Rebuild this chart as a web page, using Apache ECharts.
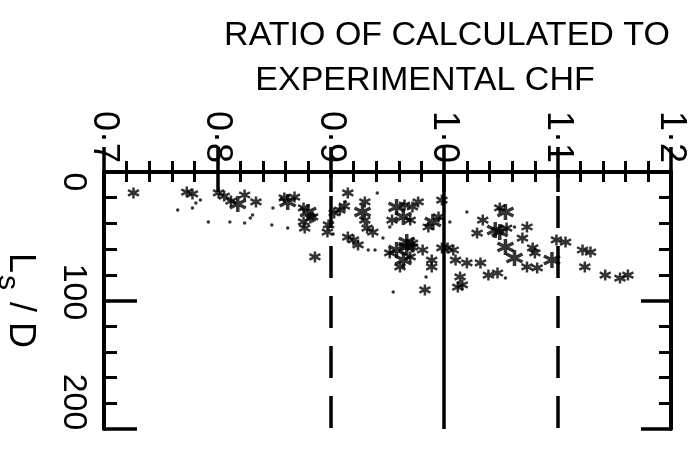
<!DOCTYPE html>
<html><head><meta charset="utf-8">
<script src="https://cdn.jsdelivr.net/npm/echarts@6/dist/echarts.min.js"></script>
<style>html,body{margin:0;padding:0;background:#fff}#c{width:693px;height:457px}</style>
</head><body><div id="c"></div>
<script>
const titleLines = ['RATIO OF CALCULATED TO', 'EXPERIMENTAL CHF'];
const xTickValues = [0.7, 0.8, 0.9, 1.0, 1.1, 1.2];
const xTickLabels = ['0·7', '0·8', '0·9', '1·0', '1·1', '1·2'];
const yTickValues = [0, 100, 200];
const yTickLabels = ['0', '100', '200'];
const yAxisTitle = ['L', 's', ' / D'];
const refLinesDashed = [0.9, 1.1];
const refLinesSolid = [1.0];

// [ratio, Ls/D]
const bigStars = [
  [0.818, 24.9], [0.862, 23.3], [0.880, 31.1], [0.928, 31.1], [0.958, 27.2],
  [0.964, 35.0], [0.958, 60.7], [0.967, 58.4], [0.964, 68.5], [0.967, 54.5],
  [0.990, 38.9], [1.054, 31.1], [1.045, 45.1], [1.049, 46.7], [1.054, 58.4],
  [1.062, 66.9], [1.095, 68.5]
];
const stars = [
  [0.726, 16.3], [0.773, 15.6], [0.778, 17.1], [0.801, 16.3], [0.806, 18.7],
  [0.812, 22.6], [0.824, 17.9], [0.834, 23.3], [0.859, 20.2], [0.868, 19.5],
  [0.876, 28.0], [0.882, 35.8], [0.876, 38.9], [0.884, 35.0], [0.877, 43.6],
  [0.886, 66.1], [0.898, 41.2], [0.897, 46.7], [0.903, 31.9], [0.908, 29.6],
  [0.912, 26.5], [0.915, 16.3], [0.915, 50.6], [0.920, 52.9], [0.924, 56.8],
  [0.930, 23.3], [0.930, 37.4], [0.932, 43.6], [0.937, 46.7], [0.954, 37.4],
  [0.970, 37.4], [0.972, 27.2], [0.952, 63.0], [0.961, 73.9], [0.970, 66.1],
  [0.972, 55.3], [0.965, 25.7], [0.977, 23.3], [0.972, 58.4], [0.981, 60.7],
  [0.989, 68.5], [0.989, 73.9], [0.995, 35.0], [0.986, 42.8], [0.998, 59.1],
  [1.003, 59.1], [1.008, 60.7], [0.998, 21.8], [1.034, 37.4], [1.029, 47.5],
  [1.049, 28.0], [1.055, 43.6], [1.073, 42.8], [1.069, 51.4], [1.078, 59.1],
  [1.080, 63.0], [1.010, 68.5], [1.020, 70.8], [1.032, 70.8], [1.039, 80.2],
  [1.047, 78.6], [1.014, 81.7], [1.016, 87.9], [0.983, 91.8], [1.073, 73.9],
  [1.082, 74.7], [1.099, 52.9], [1.107, 54.5], [1.122, 60.7], [1.129, 62.3],
  [1.124, 73.9], [1.142, 80.2], [1.155, 82.5], [1.162, 80.2], [1.012, 89.5]
];
const dots = [
  [0.785, 21.8], [0.781, 24.1], [0.765, 29.6], [0.778, 28.0], [0.792, 38.9],
  [0.811, 38.9], [0.824, 39.7], [0.831, 33.5], [0.829, 35.8], [0.849, 28.0],
  [0.848, 41.2], [0.862, 43.6], [0.913, 23.3], [0.902, 48.2], [0.933, 60.7],
  [0.939, 60.7], [0.941, 16.3], [0.946, 51.4], [0.952, 42.8], [0.955, 93.4],
  [1.005, 38.9], [1.020, 31.1], [1.062, 42.8], [1.054, 82.5], [0.984, 81.7]
];

const FONT = 'Liberation Sans';
const asterisk = 'path://M10,0L10,20M1.34,5L18.66,15M1.34,15L18.66,5';
const xLabel = v => {
  const i = xTickValues.findIndex(t => Math.abs(t - v) < 1e-6);
  return i >= 0 ? xTickLabels[i] : '';
};
const yLabel = v => {
  const i = yTickValues.findIndex(t => Math.abs(t - v) < 1e-6);
  return i >= 0 ? yTickLabels[i] : '';
};
const lineBlack = w => ({ color: '#000', width: w });

const baseX = {
  type: 'value', min: 0.7, max: 1.2, interval: 0.1,
  axisLine: { show: true, lineStyle: lineBlack(4) },
  splitLine: { show: false }, minorSplitLine: { show: false }
};
const baseY = {
  type: 'value', min: 0, max: 200, interval: 100, inverse: true,
  axisLine: { show: true, lineStyle: lineBlack(4) },
  splitLine: { show: false }, minorSplitLine: { show: false }
};

const chart = echarts.init(document.getElementById('c'), null, { renderer: 'canvas' });
chart.setOption({
  animation: false,
  backgroundColor: '#fff',
  title: [
    { text: titleLines[0], left: 442, top: 14, textAlign: 'center',
      textStyle: { fontFamily: FONT, fontSize: 34, fontWeight: 'normal', color: '#000' } },
    { text: titleLines[1], left: 420, top: 59, textAlign: 'center',
      textStyle: { fontFamily: FONT, fontSize: 34, fontWeight: 'normal', color: '#000' } }
  ],
  grid: { left: 104, right: 22, top: 172, bottom: 28, containLabel: false, outerBoundsMode: 'none' },
  xAxis: [
    Object.assign({}, baseX, {
      position: 'top',
      axisTick: { show: true, inside: true, length: 20, lineStyle: lineBlack(3.5) },
      minorTick: { show: true, splitNumber: 5, length: 10, lineStyle: lineBlack(3) },
      axisLabel: { show: true, rotate: -90, margin: 9, fontFamily: FONT, fontSize: 36, color: '#000',
        showMinLabel: true, showMaxLabel: true, hideOverlap: false, formatter: xLabel }
    }),
    Object.assign({}, baseX, {
      position: 'bottom',
      axisTick: { show: true, inside: true, length: 25, lineStyle: lineBlack(3.5) },
      minorTick: { show: true, splitNumber: 5, length: 11, lineStyle: lineBlack(3) },
      axisLabel: { show: false }
    })
  ],
  yAxis: [
    Object.assign({}, baseY, {
      position: 'left',
      axisTick: { show: true, inside: true, length: 33, lineStyle: lineBlack(3.5) },
      minorTick: { show: true, splitNumber: 5, length: 13, lineStyle: lineBlack(3) },
      axisLabel: { show: false },
      name: '{a|' + yAxisTitle[0] + '}{s|' + yAxisTitle[1] + '}{a|' + yAxisTitle[2] + '}',
      nameLocation: 'middle', nameRotate: -90, nameGap: 66,
      nameTextStyle: {
        fontFamily: FONT, color: '#000',
        rich: {
          a: { fontFamily: FONT, fontSize: 36, lineHeight: 40, verticalAlign: 'top', color: '#000' },
          s: { fontFamily: FONT, fontSize: 30, lineHeight: 30, padding: [16, 2, 0, 2], verticalAlign: 'top', color: '#000' }
        }
      }
    }),
    Object.assign({}, baseY, {
      position: 'right',
      axisTick: { show: true, inside: true, length: 30, lineStyle: lineBlack(3.5) },
      minorTick: { show: true, splitNumber: 5, length: 12, lineStyle: lineBlack(3) },
      axisLabel: { show: false }
    }),
    {
      type: 'value', position: 'left', offset: 0, inverse: true, min: -9.1, max: 224.5,
      axisLine: { show: false }, axisTick: { show: false }, splitLine: { show: false },
      axisLabel: { show: true, customValues: yTickValues, rotate: -90, margin: 14,
        fontFamily: FONT, fontSize: 34, color: '#000', formatter: yLabel }
    }
  ],
  series: [
    {
      type: 'scatter', xAxisIndex: 0, yAxisIndex: 0, data: [], silent: true,
      markLine: {
        silent: true, symbol: 'none', label: { show: false }, animation: false,
        data: refLinesDashed.map(v => ({ xAxis: v, lineStyle: { color: '#000', width: 3.5, type: [32, 18], dashOffset: 26 } }))
          .concat(refLinesSolid.map(v => ({ xAxis: v, lineStyle: { color: '#000', width: 3.5, type: 'solid' } })))
      }
    },
    {
      type: 'scatter', xAxisIndex: 0, yAxisIndex: 0, data: bigStars, silent: true,
      symbol: asterisk, symbolSize: 16,
      itemStyle: { color: '#000', borderColor: '#000', borderWidth: 3.5 }
    },
    {
      type: 'scatter', xAxisIndex: 0, yAxisIndex: 0, data: stars, silent: true,
      symbol: asterisk, symbolSize: 11,
      itemStyle: { color: '#000', borderColor: '#000', borderWidth: 2.5 }
    },
    {
      type: 'scatter', xAxisIndex: 0, yAxisIndex: 0, data: dots, silent: true,
      symbol: 'circle', symbolSize: 3.5,
      itemStyle: { color: '#000' }
    }
  ]
});
</script>
</body></html>
